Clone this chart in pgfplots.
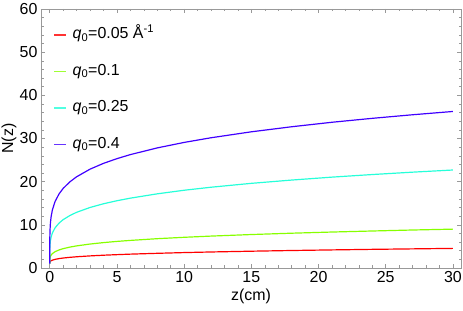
\documentclass[border=0pt]{standalone}
\usepackage{pgfplots}
\pgfplotsset{compat=1.18}
\usepackage{fontspec}
\setmainfont{Liberation Sans}
\definecolor{cRed}{rgb}{1,0,0}
\definecolor{cGreen}{rgb}{0.53,1,0}
\definecolor{cCyan}{rgb}{0.15,1,0.85}
\definecolor{cBlue}{rgb}{0.25,0,1}
\definecolor{frameGray}{gray}{0.6}
\pgfplotstableread{
z red green cyan blue
0 1.0 1.0 1.0 1.0
0.001 1.17 1.64 3.20 5.17
0.005 1.28 1.95 4.15 6.83
0.02 1.42 2.33 5.28 8.76
0.05 1.54 2.67 6.24 10.38
0.1 1.67 2.98 7.12 11.83
0.2 1.82 3.34 8.14 13.50
0.4 2.00 3.78 9.32 15.43
0.7 2.18 4.19 10.42 17.20
1 2.31 4.48 11.20 18.44
1.5 2.47 4.84 12.16 19.96
2 2.60 5.12 12.90 21.13
3 2.80 5.55 14.02 22.90
4 2.96 5.88 14.88 24.24
5 3.09 6.16 15.58 25.33
6 3.21 6.39 16.18 26.27
8 3.40 6.79 17.18 27.82
10 3.57 7.11 18.01 29.09
12 3.71 7.39 18.71 30.17
15 3.89 7.75 19.61 31.55
18 4.05 8.06 20.37 32.72
21 4.19 8.33 21.05 33.76
24 4.32 8.57 21.65 34.67
27 4.43 8.80 22.20 35.50
30 4.54 9.00 22.70 36.26
}\datatable
\newcommand{\qz}{\textit{q}\textsubscript{0}}
\begin{document}
\begin{tikzpicture}
\begin{axis}[
  scale only axis,
  width=420bp, height=259bp,
  xmin=-0.65, xmax=30.6, ymin=0, ymax=60,
  xtick={0,5,...,30}, ytick={0,10,...,60},
  minor x tick num=4, minor y tick num=4,
  tick align=inside,
  major tick length=4bp, minor tick length=2.5bp,
  axis line style={frameGray, line width=0.6pt},
  every tick/.style={frameGray, line width=0.5pt},
  tick label style={font=\fontsize{16}{18}\selectfont, black},
  /pgf/number format/assume math mode=true,
  label style={font=\fontsize{16}{18}\selectfont},
  xlabel={z(cm)}, ylabel={N(z)},
  xlabel style={yshift=1bp},
  ylabel style={yshift=-3.5bp},
  legend style={at={(axis description cs:0.03,0.93)}, anchor=north west,
    draw=none, fill=none, font=\fontsize{16}{18}\selectfont,
    inner sep=0pt, row sep=21bp, legend cell align=left,
    nodes={inner ysep=0pt, inner xsep=5.5pt, text height=11.5bp, text depth=4bp}},
  legend image code/.code={\draw[#1, line width=1.4pt, opacity=0.8] (0bp,0bp) -- (12bp,0bp);},
  every axis plot/.append style={line width=1.2pt},
]
\addplot[cRed] table[x=z, y=red] {\datatable};
\addlegendentry{\qz=0.05 Å\textsuperscript{-1}}
\addplot[cGreen] table[x=z, y=green] {\datatable};
\addlegendentry{\qz=0.1}
\addplot[cCyan] table[x=z, y=cyan] {\datatable};
\addlegendentry{\qz=0.25}
\addplot[cBlue] table[x=z, y=blue] {\datatable};
\addlegendentry{\qz=0.4}
\end{axis}
\pgfresetboundingbox
\path ([shift={(-41bp,-43bp)}]current axis.south west) rectangle ([shift={(2bp,9bp)}]current axis.north east);
\end{tikzpicture}
\end{document}
